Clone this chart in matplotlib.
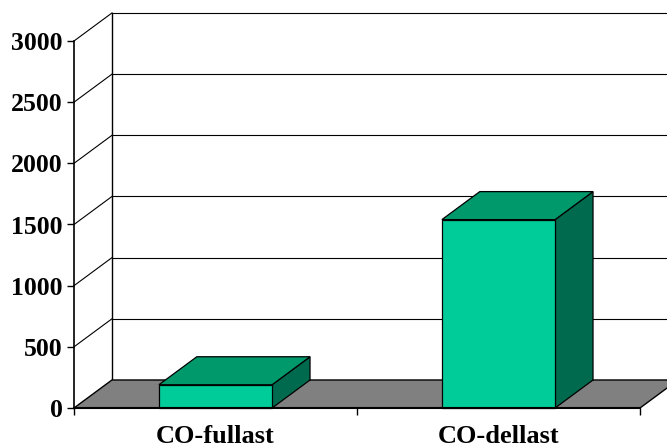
import numpy as np
import matplotlib.pyplot as plt
from matplotlib.patches import Polygon

categories = ['CO-fullast', 'CO-dellast']
values = [190, 1540]
yticks = [0, 500, 1000, 1500, 2000, 2500, 3000]

# 3-D look: depth offset in category units (x) and value units (y)
DX, DY = 0.134, 229
BAR_W = 0.40

plt.rcParams['font.family'] = ['Liberation Serif', 'DejaVu Serif']

fig = plt.figure(figsize=(6.67, 4.48), dpi=100)
ax = fig.add_axes([74 / 667, 40 / 448, 566 / 667, 367 / 448])
ax.set_xlim(-0.5, 1.5)
ax.set_ylim(0, 3000)
ax.patch.set_visible(False)

x0, x1 = -0.5, 1.5
top = yticks[-1]

# side wall + back wall gridlines
for v in yticks[1:]:
    ax.plot([x0, x0 + DX], [v, v + DY], color='black', lw=0.8, clip_on=False, zorder=1)
    ax.plot([x0 + DX, x1 + DX], [v + DY, v + DY], color='black', lw=0.8, clip_on=False, zorder=1)
ax.plot([x0 + DX, x0 + DX], [DY, top + DY], color='black', lw=1.0, clip_on=False, zorder=1)

# floor
floor = Polygon([(x0, 0), (x1, 0), (x1 + DX, DY), (x0 + DX, DY)], closed=True,
                facecolor='#808080', edgecolor='black', lw=1.0, clip_on=False, zorder=2)
ax.add_patch(floor)

# bars: front, top and side faces
for i, v in enumerate(values):
    l, r = i - BAR_W / 2, i + BAR_W / 2
    front = [(l, 0), (r, 0), (r, v), (l, v)]
    topf = [(l, v), (r, v), (r + DX, v + DY), (l + DX, v + DY)]
    side = [(r, 0), (r + DX, DY), (r + DX, v + DY), (r, v)]
    for pts, fc in [(side, '#006a4e'), (topf, '#00996c'), (front, '#00cc99')]:
        ax.add_patch(Polygon(pts, closed=True, facecolor=fc, edgecolor='black',
                             lw=0.9, clip_on=False, zorder=3))

for s in ['top', 'right', 'bottom']:
    ax.spines[s].set_visible(False)
ax.spines['left'].set_linewidth(1.2)
ax.spines['left'].set_zorder(4)
ax.plot([x0, x1], [0, 0], color='black', lw=1.5, clip_on=False, zorder=4)

ax.set_yticks(yticks)
ax.set_yticklabels([str(t) for t in yticks], fontsize=18.5, fontweight='bold')
ax.tick_params(axis='y', length=5, width=1.0, pad=3)

ax.set_xticks([0, 1])
ax.set_xticklabels(categories, fontsize=19, fontweight='bold')
ax.tick_params(axis='x', which='major', length=0, pad=12)
ax.set_xticks([-0.5, 0.5, 1.5], minor=True)
ax.tick_params(axis='x', which='minor', length=5, width=1.0)

fig.savefig('out.png', dpi=100)
